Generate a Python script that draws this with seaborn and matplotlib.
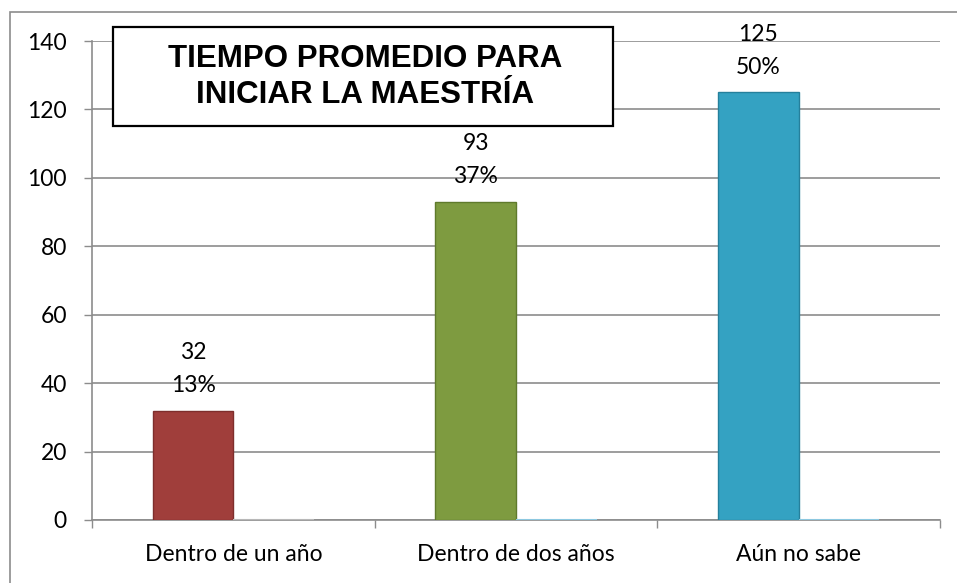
import matplotlib
matplotlib.use("Agg")
import matplotlib.pyplot as plt
import matplotlib.patches as mpatches
import seaborn as sns
import pandas as pd

categories = ["Dentro de un año", "Dentro de dos años", "Aún no sabe"]
counts = [32, 93, 125]
percent_labels = ["13%", "37%", "50%"]
second_series = [0, 0, 0]
yticks = [0, 20, 40, 60, 80, 100, 120, 140]
title_text = "TIEMPO PROMEDIO PARA\nINICIAR LA MAESTRÍA"

bar_colors = ["#A03E3B", "#7E9B40", "#34A2C2"]
edge_colors = ["#7E2E2C", "#5F7A2C", "#25809C"]
zero_colors = ["#B8B8B8", "#8CC8E0", "#8CC8E0"]

sns.set_theme(style="white")
plt.rcParams['font.family'] = ['Lato', 'DejaVu Sans']
plt.rcParams['text.color'] = 'black'
plt.rcParams['xtick.color'] = 'black'
plt.rcParams['ytick.color'] = 'black'

df = pd.DataFrame({
    "cat": categories * 2,
    "serie": ["A"] * 3 + ["B"] * 3,
    "val": counts + second_series,
})

fig = plt.figure(figsize=(9.57, 5.83), dpi=100)
ax = fig.add_axes([92/957, 63/583, (940-92)/957, (520-41)/583])

sns.barplot(data=df, x="cat", y="val", hue="serie", order=categories,
            hue_order=["A", "B"], dodge=True, width=0.57, ax=ax,
            palette=["#888888", "#8CC8E0"], legend=False, errorbar=None,
            saturation=1, zorder=3)

patches = ax.patches
for i, p in enumerate(patches[:3]):
    p.set_facecolor(bar_colors[i])
    p.set_edgecolor(edge_colors[i])
    p.set_linewidth(1.0)
for i, p in enumerate(patches[3:6]):
    p.set_facecolor(zero_colors[i])
    p.set_edgecolor(zero_colors[i])
    p.set_linewidth(1.5)

fs = 16.5
for i, p in enumerate(patches[:3]):
    cx = p.get_x() + p.get_width() / 2
    top = p.get_height()
    ax.annotate(f"{counts[i]}", (cx, top), xytext=(0, 58), textcoords="offset pixels",
                ha="center", va="center", fontsize=fs, color="black")
    ax.annotate(percent_labels[i], (cx, top), xytext=(0, 25), textcoords="offset pixels",
                ha="center", va="center", fontsize=fs, color="black")

ax.set_ylim(0, 140)
ax.set_xlim(-0.5, 2.5)
ax.set_yticks(yticks)
ax.set_yticklabels([str(v) for v in yticks], fontsize=fs)
ax.set_xticks(range(3))
ax.set_xticklabels(categories, fontsize=fs)
ax.set_xticks([-0.5, 0.5, 1.5, 2.5], minor=True)
ax.tick_params(axis="x", which="major", length=0, pad=17, labelcolor="black")
ax.tick_params(axis="x", which="minor", length=6, width=1, color="#8C8C8C", direction="out", bottom=True)
ax.tick_params(axis="y", which="major", length=6, width=1, color="#8C8C8C", direction="out", left=True,
               pad=12, labelcolor="black")
ax.set_xlabel("")
ax.set_ylabel("")

ax.grid(axis="y", color="#8C8C8C", linewidth=1.2, zorder=0)
ax.set_axisbelow(True)
for s in ["top", "right"]:
    ax.spines[s].set_visible(False)
for s in ["left", "bottom"]:
    ax.spines[s].set_color("#8C8C8C")
    ax.spines[s].set_linewidth(1.2)

# title box
box = mpatches.Rectangle((113/957, 1 - 126/583), (613-113)/957, (126-27)/583,
                         transform=fig.transFigure, fc="white", ec="black", lw=1.6, zorder=9)
fig.add_artist(box)
fig.text(365/957, 1 - 77/583, title_text, ha="center", va="center",
         fontsize=22.5, fontweight="bold", family=["Liberation Sans", "DejaVu Sans"],
         linespacing=1.3, zorder=11, color="black")

# outer border
border = mpatches.Rectangle((10/957, -0.1), 1.2, 1 - 12/583 + 0.1, transform=fig.transFigure,
                            fc="none", ec="#8C8C8C", lw=1.2, zorder=0)
fig.add_artist(border)

fig.savefig("out.png", dpi=100)
